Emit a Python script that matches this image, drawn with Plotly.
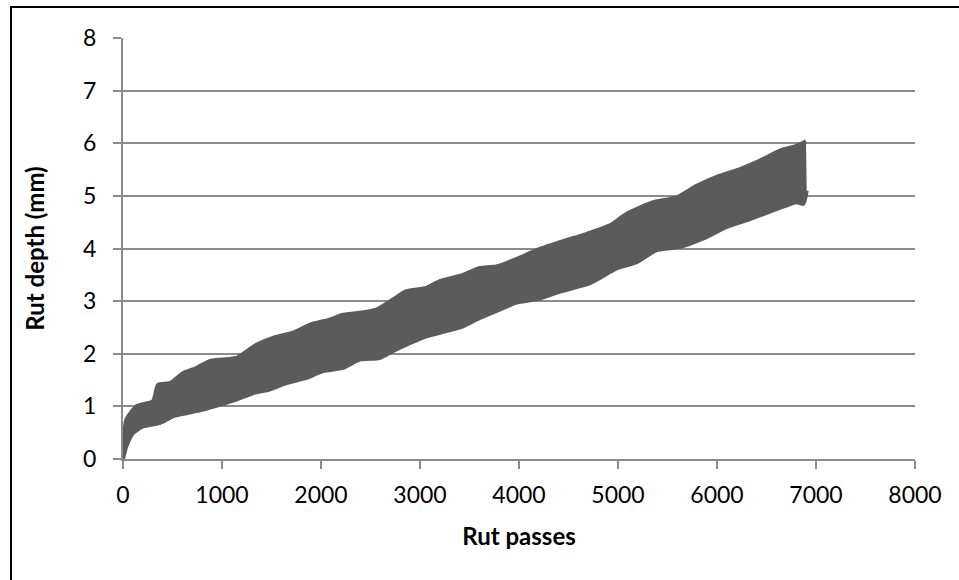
import plotly.graph_objects as go

# Envelope of the noisy rut-depth trace
upper_passes = [0, 17, 34, 135, 303, 354, 471, 606, 741, 875, 1010, 1145, 1347, 1515, 1717,
                1886, 2088, 2222, 2391, 2559, 2727, 2862, 3064, 3199, 3434, 3603, 3771, 3973,
                4178, 4414, 4684, 4919, 5088, 5357, 5593, 5795, 5997, 6233, 6434, 6636, 6805, 6899]
upper_depth = [0.05, 0.55, 0.75, 1.0, 1.1, 1.41, 1.44, 1.63, 1.73, 1.86, 1.89, 1.92, 2.17, 2.3, 2.4,
               2.55, 2.65, 2.74, 2.78, 2.84, 3.03, 3.19, 3.25, 3.38, 3.5, 3.63, 3.66, 3.8,
               3.97, 4.12, 4.28, 4.44, 4.66, 4.88, 4.97, 5.19, 5.36, 5.51, 5.67, 5.86, 5.95, 6.04]

lower_passes = [0, 34, 100, 202, 370, 505, 640, 808, 976, 1145, 1313, 1481, 1650, 1852, 2020,
                2222, 2391, 2593, 2727, 2896, 3064, 3266, 3434, 3603, 3805, 3973, 4212, 4414,
                4717, 4987, 5189, 5391, 5627, 5862, 6098, 6333, 6603, 6805, 6872, 6906]
lower_depth = [0.0, 0.24, 0.49, 0.62, 0.68, 0.81, 0.87, 0.94, 1.03, 1.13, 1.25, 1.32, 1.44, 1.54, 1.67,
               1.73, 1.89, 1.92, 2.05, 2.2, 2.33, 2.43, 2.52, 2.68, 2.84, 2.97, 3.05, 3.18,
               3.34, 3.62, 3.74, 3.97, 4.03, 4.19, 4.41, 4.56, 4.75, 4.88, 4.85, 5.1]

x_ticks = [0, 1000, 2000, 3000, 4000, 5000, 6000, 7000, 8000]
y_ticks = [0, 1, 2, 3, 4, 5, 6, 7, 8]

BAND = "#5b5b5b"
GRID = "#8c8c8c"
FONT = "Lato, 'Open Sans', sans-serif"

fig = go.Figure()
fig.add_trace(go.Scatter(x=lower_passes, y=lower_depth, mode="lines",
                         line=dict(color=BAND, width=4, shape="spline", smoothing=0.6),
                         showlegend=False, hoverinfo="skip"))
fig.add_trace(go.Scatter(x=upper_passes, y=upper_depth, mode="lines",
                         line=dict(color=BAND, width=4, shape="spline", smoothing=0.6),
                         fill="tonexty", fillcolor=BAND,
                         showlegend=False, hoverinfo="skip"))

fig.update_layout(
    width=959, height=580,
    margin=dict(l=123, r=44, t=38, b=121),
    paper_bgcolor="white", plot_bgcolor="white",
    font=dict(family=FONT, size=23, color="#000000"),
    showlegend=False,
    xaxis=dict(range=[0, 8000], tickvals=x_ticks, ticktext=[str(v) for v in x_ticks],
               showgrid=False, zeroline=False, showline=True, linecolor=GRID, linewidth=2,
               ticks="outside", ticklen=8, tickwidth=2, tickcolor=GRID,
               ticklabelstandoff=6,
               title=dict(text="<b>Rut passes</b>", font=dict(family=FONT, size=24), standoff=22)),
    yaxis=dict(range=[0, 8], tickvals=y_ticks, ticktext=[str(v) for v in y_ticks],
               showgrid=True, gridcolor=GRID, gridwidth=2, zeroline=False,
               showline=True, linecolor=GRID, linewidth=2,
               ticks="outside", ticklen=8, tickwidth=2, tickcolor=GRID,
               ticklabelstandoff=12,
               title=dict(text="<b>Rut depth (mm)</b>", font=dict(family=FONT, size=24), standoff=32)),
    shapes=[dict(type="rect", xref="paper", yref="paper",
                 x0=(11 - 123) / 792, x1=(970 - 123) / 792,
                 y0=(459 - 590) / 421, y1=(459 - 7) / 421,
                 line=dict(color="black", width=2), fillcolor="rgba(0,0,0,0)", layer="below")],
)

fig.write_html("out.html", config={"displayModeBar": False},
               post_script="document.body.style.margin='0';document.body.style.padding='0';")
